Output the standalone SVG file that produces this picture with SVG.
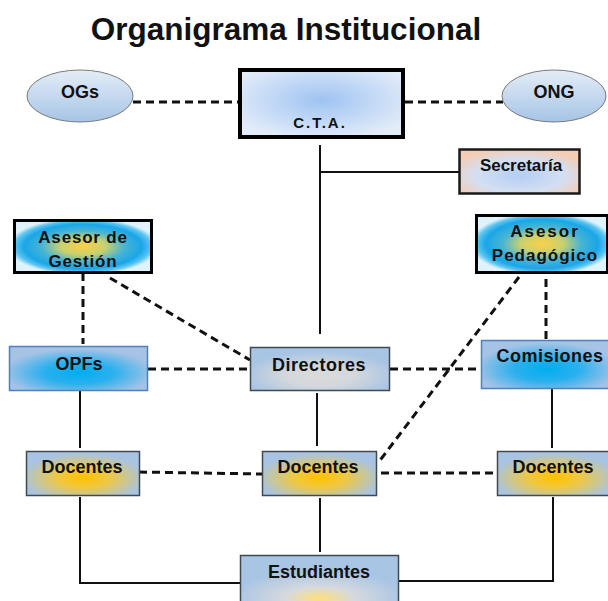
<svg xmlns="http://www.w3.org/2000/svg" width="608" height="601" viewBox="0 0 608 601">
<defs>
<linearGradient id="gEll" x1="0" y1="0" x2="0" y2="1">
<stop offset="0" stop-color="#e4edf7"/><stop offset="1" stop-color="#a6c4e6"/>
</linearGradient>
<radialGradient id="gCTA" cx="0.5" cy="0.45" r="0.6">
<stop offset="0" stop-color="#9fc3f2"/><stop offset="1" stop-color="#e2ecf9"/>
</radialGradient>
<radialGradient id="gSec" cx="0.5" cy="0.6" r="0.62">
<stop offset="0" stop-color="#b4cef4"/><stop offset="0.6" stop-color="#d4dff2"/><stop offset="1" stop-color="#f4cdb4"/>
</radialGradient>
<radialGradient id="gAse" cx="0.5" cy="0.5" r="0.55">
<stop offset="0" stop-color="#fdd048"/><stop offset="0.3" stop-color="#c8d070"/><stop offset="0.55" stop-color="#48b4d4"/><stop offset="0.78" stop-color="#1aa6e8"/><stop offset="0.9" stop-color="#5cc4f0"/><stop offset="1" stop-color="#e0f3fc"/>
</radialGradient>
<radialGradient id="gBlue" cx="0.5" cy="0.6" r="0.55">
<stop offset="0" stop-color="#00aef0"/><stop offset="0.45" stop-color="#2ab0ee"/><stop offset="1" stop-color="#a6c3e5"/>
</radialGradient>
<radialGradient id="gDir" cx="0.5" cy="0.65" r="0.55">
<stop offset="0" stop-color="#dadada"/><stop offset="0.45" stop-color="#d4d8dc"/><stop offset="1" stop-color="#a9c5e4"/>
</radialGradient>
<radialGradient id="gDoc" cx="0.5" cy="0.6" r="0.55">
<stop offset="0" stop-color="#ffc000"/><stop offset="0.4" stop-color="#f0c840"/><stop offset="1" stop-color="#a8c4e2"/>
</radialGradient>
<radialGradient id="gEst" cx="0.5" cy="0.85" r="0.55">
<stop offset="0" stop-color="#ffe07a"/><stop offset="0.4" stop-color="#d6d9de"/><stop offset="1" stop-color="#a8c5e4"/>
</radialGradient>
</defs>
<style>
text{font-family:"Liberation Sans",Arial,sans-serif;font-weight:bold;fill:#111;text-anchor:middle}
.lbl{font-size:18px}
.solid{stroke:#111;stroke-width:2;fill:none}
.dash{stroke:#111;stroke-width:3;fill:none;stroke-dasharray:8 5}
.thin{stroke:#4f81bd;stroke-width:1.5}
.dark{stroke:#404850;stroke-width:1.5}
</style>
<text x="286" y="40" font-size="31.5">Organigrama Institucional</text>
<g id="connectors">
<line class="dash" x1="133" y1="102" x2="238" y2="102"/>
<line class="dash" x1="405" y1="102" x2="503" y2="102"/>
<line class="solid" x1="320" y1="145" x2="320" y2="334"/>
<line class="solid" x1="320" y1="172" x2="459" y2="172"/>
<line class="dash" x1="83" y1="273" x2="83" y2="344"/>
<line class="dash" x1="110" y1="278" x2="250" y2="360"/>
<line class="dash" x1="546" y1="279" x2="546" y2="340"/>
<line class="dash" x1="519" y1="277" x2="378" y2="463"/>
<line class="dash" x1="148" y1="369" x2="250" y2="369"/>
<line class="dash" x1="390" y1="369" x2="481" y2="369"/>
<line class="solid" x1="80" y1="391" x2="80" y2="448"/>
<line class="solid" x1="317" y1="393" x2="317" y2="446"/>
<line class="solid" x1="552" y1="389" x2="552" y2="448"/>
<line class="dash" x1="139" y1="472" x2="262" y2="474"/>
<line class="dash" x1="381" y1="473" x2="497" y2="473"/>
<line class="solid" x1="320" y1="498" x2="320" y2="552"/>
<polyline class="solid" points="80,497 80,583 240,583"/>
<polyline class="solid" points="553,497 553,581 398,581"/>
</g>
<g id="ogs">
<ellipse cx="80" cy="96" rx="53" ry="26" fill="url(#gEll)" stroke="#7a7a7a" stroke-width="1"/>
<text class="lbl" x="80" y="98">OGs</text>
</g>
<g id="ong">
<ellipse cx="554" cy="96" rx="52" ry="26" fill="url(#gEll)" stroke="#7a7a7a" stroke-width="1"/>
<text class="lbl" x="554" y="98">ONG</text>
</g>
<g id="cta">
<rect x="240" y="70" width="163" height="67" fill="url(#gCTA)" stroke="#000" stroke-width="4"/>
<text x="320" y="128" font-size="15" letter-spacing="2">C.T.A.</text>
</g>
<g id="secretaria">
<rect x="459.5" y="149.5" width="120" height="44" fill="url(#gSec)" stroke="#1a1a1a" stroke-width="2.5"/>
<text x="521" y="171" font-size="17">Secretaría</text>
</g>
<g id="asesor-gestion">
<rect x="14.5" y="220.5" width="137" height="52" fill="url(#gAse)" stroke="#000" stroke-width="3"/>
<text x="83" y="243" font-size="17" letter-spacing="0.8">Asesor de</text>
<text x="83" y="267" font-size="17" letter-spacing="0.8">Gestión</text>
</g>
<g id="asesor-pedagogico">
<rect x="476.5" y="215.5" width="131" height="57" fill="url(#gAse)" stroke="#000" stroke-width="3"/>
<text x="545" y="237" font-size="17" letter-spacing="2">Asesor</text>
<text x="545" y="261" font-size="17" letter-spacing="1">Pedagógico</text>
</g>
<g id="opfs">
<rect x="9.5" y="346.5" width="138" height="44" fill="url(#gBlue)" class="thin"/>
<text class="lbl" x="79" y="370">OPFs</text>
</g>
<g id="directores">
<rect x="250.5" y="347.5" width="139" height="43" fill="url(#gDir)" class="dark"/>
<text class="lbl" x="319" y="371" letter-spacing="0.5">Directores</text>
</g>
<g id="comisiones">
<rect x="481.5" y="340.5" width="130" height="48" fill="url(#gBlue)" class="thin"/>
<text class="lbl" x="550" y="362" letter-spacing="0.5">Comisiones</text>
</g>
<g id="docentes-izq">
<rect x="26.5" y="451.5" width="113" height="44" fill="url(#gDoc)" class="dark"/>
<text class="lbl" x="82" y="473">Docentes</text>
</g>
<g id="docentes-centro">
<rect x="262.5" y="451.5" width="114" height="44" fill="url(#gDoc)" class="dark"/>
<text class="lbl" x="318" y="473">Docentes</text>
</g>
<g id="docentes-der">
<rect x="497.5" y="451.5" width="114" height="44" fill="url(#gDoc)" class="dark"/>
<text class="lbl" x="553" y="473">Docentes</text>
</g>
<g id="estudiantes">
<rect x="240.5" y="555.5" width="158" height="50" fill="url(#gEst)" class="dark"/>
<text class="lbl" x="319" y="578">Estudiantes</text>
</g>
</svg>
